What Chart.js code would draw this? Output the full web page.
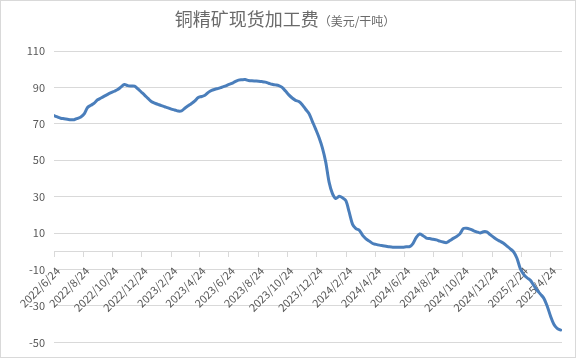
<!DOCTYPE html>
<html><head><meta charset="utf-8">
<script src="https://cdn.jsdelivr.net/npm/chart.js@4/dist/chart.umd.min.js"></script>
<style>html,body{margin:0;padding:0;background:#fff}#wrap{width:576px;height:358px}</style>
</head><body><div id="wrap"><canvas id="c" width="576" height="358"></canvas></div>
<script>
const titleMain = '铜精矿现货加工费';
const titleUnit = '（美元/干吨）';
const dates = [
'2022/6/24','2022/7/1','2022/7/8','2022/7/15','2022/7/22','2022/7/29','2022/8/5','2022/8/12','2022/8/19','2022/8/26',
'2022/9/2','2022/9/9','2022/9/16','2022/9/23','2022/9/30','2022/10/7','2022/10/14','2022/10/21','2022/10/28','2022/11/4',
'2022/11/11','2022/11/18','2022/11/25','2022/12/2','2022/12/9','2022/12/16','2022/12/23','2022/12/30',
'2023/1/6','2023/1/13','2023/1/20','2023/1/27','2023/2/3','2023/2/10','2023/2/17','2023/2/24','2023/3/3','2023/3/10',
'2023/3/17','2023/3/24','2023/3/31','2023/4/7','2023/4/14','2023/4/21','2023/4/28','2023/5/5','2023/5/12','2023/5/19',
'2023/5/26','2023/6/2','2023/6/9','2023/6/16','2023/6/23','2023/6/30','2023/7/7','2023/7/14','2023/7/21','2023/7/28',
'2023/8/4','2023/8/11','2023/8/18','2023/8/25','2023/9/1','2023/9/8','2023/9/15','2023/9/22','2023/9/29','2023/10/6',
'2023/10/13','2023/10/20','2023/10/27','2023/11/3','2023/11/10','2023/11/17','2023/11/24','2023/12/1','2023/12/8','2023/12/15',
'2023/12/22','2023/12/29',
'2024/1/5','2024/1/12','2024/1/19','2024/1/26','2024/2/2','2024/2/9','2024/2/16','2024/2/23','2024/3/1','2024/3/8',
'2024/3/15','2024/3/22','2024/3/29','2024/4/5','2024/4/12','2024/4/19','2024/4/26','2024/5/3','2024/5/10','2024/5/17',
'2024/5/24','2024/5/31','2024/6/7','2024/6/14','2024/6/21','2024/6/28','2024/7/5','2024/7/12','2024/7/19','2024/7/26',
'2024/8/2','2024/8/9','2024/8/16','2024/8/23','2024/8/30','2024/9/6','2024/9/13','2024/9/20','2024/9/27','2024/10/4',
'2024/10/11','2024/10/18','2024/10/25','2024/11/1','2024/11/8','2024/11/15','2024/11/22','2024/11/29','2024/12/6','2024/12/13',
'2024/12/20','2024/12/27',
'2025/1/3','2025/1/10','2025/1/17','2025/1/24','2025/1/31','2025/2/7','2025/2/14','2025/2/21','2025/2/28','2025/3/7',
'2025/3/14','2025/3/21','2025/3/28','2025/4/4','2025/4/11','2025/4/18','2025/4/25','2025/5/2','2025/5/9','2025/5/16'
];
const values = [
74.5,73.8,73.1,72.8,72.5,72.2,72.3,73.0,73.8,75.5,
79.0,80.2,81.4,83.2,84.2,85.2,86.2,87.1,87.9,88.8,
90.3,91.6,91.0,90.8,90.7,89.2,87.5,85.8,84.0,82.3,
81.4,80.7,80.0,79.4,78.8,78.1,77.6,77.0,77.1,78.6,
79.9,81.2,82.6,84.5,85.0,85.7,87.3,88.4,89.0,89.5,
90.1,90.7,91.5,92.2,93.2,94.0,94.2,94.3,93.8,93.6,
93.5,93.4,93.2,92.9,92.3,91.7,91.4,91.0,90.0,88.0,
85.9,84.2,82.9,82.3,80.5,78.0,75.7,71.4,67.1,62.5,
56.8,49.0,38.0,31.7,29.0,30.2,29.4,27.8,21.5,14.8,
12.5,11.6,8.8,6.9,5.6,4.3,3.8,3.4,3.1,2.8,
2.5,2.3,2.3,2.3,2.3,2.5,2.6,4.3,7.7,9.5,
8.6,7.3,7.0,6.6,6.3,5.6,5.1,4.8,5.9,7.1,
8.1,9.6,12.5,12.7,12.2,11.4,10.7,10.1,10.8,10.7,
9.2,7.8,6.5,5.5,4.4,2.9,1.4,-0.3,-3.8,-9.5,
-12.6,-14.5,-15.9,-18.7,-21.3,-23.5,-25.7,-30.0,-35.5,-40.0,
-42.3,-43.2
];
const xTickLabels = ['2022/6/24','2022/8/24','2022/10/24','2022/12/24','2023/2/24','2023/4/24','2023/6/24','2023/8/24','2023/10/24','2023/12/24','2024/2/24','2024/4/24','2024/6/24','2024/8/24','2024/10/24','2024/12/24','2025/2/24','2025/4/24'];
const yTicks = [-50,-30,-10,10,30,50,70,90,110];

const dayOf = s => { const p = s.split('/').map(Number); return Date.UTC(p[0], p[1]-1, p[2]) / 86400000; };
const base = dayOf(dates[0]);
const points = dates.map((d, i) => ({x: dayOf(d) - base, y: values[i]}));
const xTickVals = xTickLabels.map(s => dayOf(s) - base);

const FONT = '"Noto Sans CJK SC", "Noto Sans", sans-serif';

const bgPlugin = {
  id: 'bg',
  beforeDraw(chart) {
    const c = chart.ctx;
    c.save();
    c.fillStyle = '#fff';
    c.fillRect(0, 0, chart.width, chart.height);
    c.strokeStyle = '#d9d9d9';
    c.lineWidth = 1;
    c.strokeRect(0.5, 0.5, chart.width - 1, chart.height - 1);
    c.restore();
  }
};
const titlePlugin = {
  id: 'ttl',
  afterDraw(chart) {
    const c = chart.ctx;
    c.save();
    const f1 = '18px ' + FONT, f2 = '12px ' + FONT;
    c.font = f1; const w1 = c.measureText(titleMain).width;
    c.font = f2; const w2 = c.measureText(titleUnit).width;
    const x0 = 285 - (w1 + w2) / 2;
    c.fillStyle = '#6a6a6a';
    c.textBaseline = 'alphabetic';
    c.textAlign = 'left';
    c.font = f1; c.fillText(titleMain, x0, 26);
    c.font = f2; c.fillText(titleUnit, x0 + w1, 26);
    c.restore();
  }
};

new Chart(document.getElementById('c'), {
  type: 'line',
  data: { datasets: [{ data: points, borderColor: '#4a7ebb', borderWidth: 3, pointRadius: 0, tension: 0.3, fill: false, borderCapStyle: 'round', borderJoinStyle: 'round' }] },
  options: {
    responsive: false,
    animation: false,
    layout: { padding: { top: 51, right: 14, bottom: 15, left: 0 } },
    plugins: { legend: { display: false }, tooltip: { enabled: false }, title: { display: false } },
    scales: {
      x: {
        type: 'linear', position: { y: 0 }, min: 0, max: 1060,
        afterBuildTicks: s => { s.ticks = xTickVals.map(v => ({ value: v })); },
        afterFit: s => { s.height = 0; },
        grid: { drawOnChartArea: false, drawTicks: true, tickLength: 5, color: '#d9d9d9' },
        border: { display: true, color: '#d9d9d9', width: 1 },
        ticks: { autoSkip: false, maxRotation: 45, minRotation: 45, padding: 8, labelOffset: 4, color: '#595959',
                 font: { family: FONT, size: 11 }, callback: (v, i) => xTickLabels[i] }
      },
      y: {
        min: -50, max: 110,
        afterBuildTicks: s => { s.ticks = yTicks.map(v => ({ value: v })); },
        afterFit: s => { s.width = 54; },
        grid: { color: '#d9d9d9', drawTicks: false },
        border: { display: false },
        ticks: { padding: 9, color: '#595959', font: { family: FONT, size: 11 } }
      }
    }
  },
  plugins: [bgPlugin, titlePlugin]
});
</script></body></html>
